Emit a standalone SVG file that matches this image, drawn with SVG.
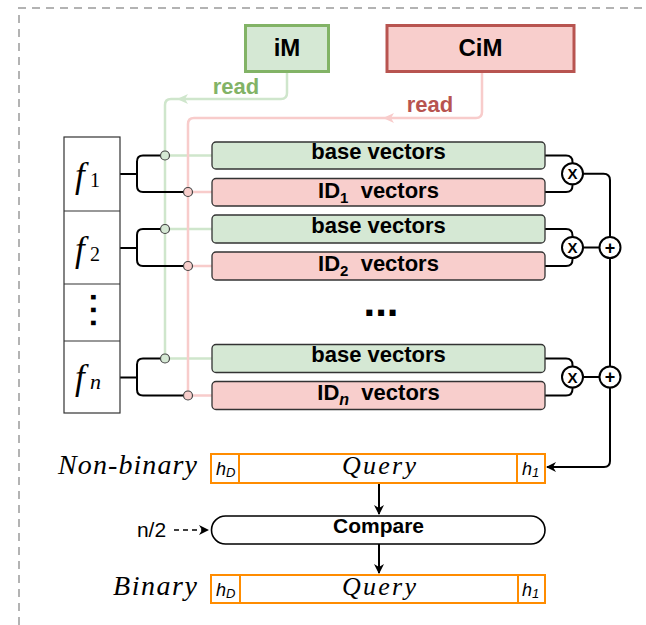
<svg xmlns="http://www.w3.org/2000/svg" width="646" height="625" viewBox="0 0 646 625">
<defs>
<style>
.sans{font-family:"Liberation Sans",Arial,Helvetica,sans-serif}
.math{font-family:"Liberation Serif","Times New Roman",serif;font-style:italic}
.serif{font-family:"Liberation Serif","Times New Roman",serif}
.lbl{font-family:"Liberation Sans",Arial,Helvetica,sans-serif;font-size:22px;font-weight:bold;fill:#000;white-space:pre}
.gv{fill:#d5e8d4;stroke:#333;stroke-width:1.3}
.rv{fill:#f8cecc;stroke:#333;stroke-width:1.3}
.blk{fill:none;stroke:#000;stroke-width:2}
.op{fill:#fff;stroke:#000;stroke-width:2}
.org{fill:#fff;stroke:#FF8C00;stroke-width:2}
.gl{fill:none;stroke:#cfe6cc;stroke-width:2.5}
.rl{fill:none;stroke:#f8cccb;stroke-width:2.5}
.gc{fill:#d5e8d4;stroke:#444;stroke-width:1.2}
.rc{fill:#f8cecc;stroke:#444;stroke-width:1.2}
.optxt{font-family:"Liberation Sans",Arial,sans-serif;font-weight:bold;text-anchor:middle}
</style>
<marker id="ah" markerWidth="10" markerHeight="10" refX="9" refY="5" orient="auto" markerUnits="userSpaceOnUse"><path d="M0,0 L10,5 L0,10 L3,5 z" fill="#000"/></marker>
</defs>

<path d="M19,625 V8 H646" fill="none" stroke="#b3b3b3" stroke-width="2" stroke-dasharray="8,6"/>

<g id="connectors">
  <path class="gl" d="M287,71.5 V93 Q287,99 281,99 H171 Q165,99 165,105 V354"/>
  <path class="gl" d="M169.5,155.5 H212 M169.5,229 H212 M169.5,358.5 H212"/>
  <path d="M177,99 L188,94 L185,99 L188,104 z" fill="#cfe6cc"/>
  <path class="rl" d="M482,71.5 V112 Q482,118 476,118 H194 Q188,118 188,124 V391"/>
  <path class="rl" d="M192.5,192 H212 M192.5,266 H212 M192.5,395.5 H212"/>
  <path d="M383,118 L394,113 L391,118 L394,123 z" fill="#f8cccb"/>
  <text class="sans" x="236" y="94" font-size="22" font-weight="bold" fill="#82b366" text-anchor="middle">read</text>
  <text class="sans" x="430" y="112" font-size="22" font-weight="bold" fill="#b85450" text-anchor="middle">read</text>

  <path class="blk" d="M120,174 H137 M160.5,155.5 H143 Q137,155.5 137,161.5 V186 Q137,192 143,192 H183.5"/>
  <path class="blk" d="M120,248 H137 M160.5,229 H143 Q137,229 137,235 V260 Q137,266 143,266 H183.5"/>
  <path class="blk" d="M120,377.5 H137 M160.5,358.5 H143 Q137,358.5 137,364.5 V389.5 Q137,395.5 143,395.5 H183.5"/>

  <circle class="gc" cx="165" cy="155.5" r="4.5"/>
  <circle class="rc" cx="188" cy="192" r="4.5"/>
  <circle class="gc" cx="165" cy="229" r="4.5"/>
  <circle class="rc" cx="188" cy="266" r="4.5"/>
  <circle class="gc" cx="165" cy="358.5" r="4.5"/>
  <circle class="rc" cx="188" cy="395.5" r="4.5"/>

  <path class="blk" d="M545,155.5 H566 Q572.5,155.5 572.5,162 V163.5 M545,192 H566 Q572.5,192 572.5,185.5 V184"/>
  <path class="blk" d="M545,229 H566 Q572.5,229 572.5,235.5 V237 M545,266 H566 Q572.5,266 572.5,259.5 V258"/>
  <path class="blk" d="M545,358.5 H566 Q572.5,358.5 572.5,365 V366.5 M545,395.5 H566 Q572.5,395.5 572.5,389 V387.5"/>
  <path class="blk" d="M583,173.75 H603.5 Q610,173.75 610,180.25 V237 M583,247.5 H599.5 M610,258 V366.5 M583,377 H599.5"/>
  <path class="blk" d="M610,387.5 V461 Q610,467 604,467 H547" marker-end="url(#ah)"/>

  <path class="blk" d="M379,483 V514" marker-end="url(#ah)"/>
  <path class="blk" d="M379,544 V573" marker-end="url(#ah)"/>
  <path d="M174,530 H208" fill="none" stroke="#000" stroke-width="1.6" stroke-dasharray="5,4" marker-end="url(#ah)"/>
  <text class="sans" x="151.5" y="537" font-size="21" text-anchor="middle">n/2</text>
</g>

<g id="iM">
  <rect x="245.5" y="25.5" width="83" height="46" fill="#d5e8d4" stroke="#82b366" stroke-width="3"/>
  <text class="optxt" x="287" y="56" font-size="24">iM</text>
</g>
<g id="CiM">
  <rect x="387" y="25.5" width="187" height="46" fill="#f8cecc" stroke="#b85450" stroke-width="3"/>
  <text class="optxt" x="480.5" y="56" font-size="24">CiM</text>
</g>

<g id="features">
  <rect x="64" y="137" width="56" height="276" fill="#fff" stroke="#333" stroke-width="1.2"/>
  <path d="M64,211 H120 M64,284 H120 M64,341 H120" stroke="#333" stroke-width="1.2"/>
  <text y="187"><tspan x="75" class="math" font-size="35">f</tspan><tspan x="90" class="serif" font-size="20">1</tspan></text>
  <text y="261"><tspan x="75" class="math" font-size="35">f</tspan><tspan x="90" class="serif" font-size="20">2</tspan></text>
  <text y="389"><tspan x="75" class="math" font-size="35">f</tspan><tspan x="90" class="math" font-size="22">n</tspan></text>
  <text class="optxt" x="92.5" y="314" font-size="32" letter-spacing="4" transform="rotate(90 92.5 312)">...</text>
</g>

<g id="row1-base"><rect class="gv" x="212" y="142" width="333" height="27" rx="4"/><text class="lbl" x="378.5" y="159" text-anchor="middle">base vectors</text></g>
<g id="row1-id"><rect class="rv" x="212" y="178.5" width="333" height="27.5" rx="4"/><text class="lbl" x="378.5" y="197.5" text-anchor="middle">ID<tspan font-size="15" dy="5">1</tspan><tspan dy="-5">  vectors</tspan></text></g>
<g id="row2-base"><rect class="gv" x="212" y="215" width="333" height="28" rx="4"/><text class="lbl" x="378.5" y="232.5" text-anchor="middle">base vectors</text></g>
<g id="row2-id"><rect class="rv" x="212" y="252" width="333" height="28" rx="4"/><text class="lbl" x="378.5" y="271" text-anchor="middle">ID<tspan font-size="15" dy="5">2</tspan><tspan dy="-5">  vectors</tspan></text></g>
<g id="dots"><text class="optxt" x="381" y="316" font-size="42">...</text></g>
<g id="rown-base"><rect class="gv" x="212" y="344.5" width="333" height="28" rx="4"/><text class="lbl" x="378.5" y="362" text-anchor="middle">base vectors</text></g>
<g id="rown-id"><rect class="rv" x="212" y="381.5" width="333" height="28" rx="4"/><text class="lbl" x="378.5" y="400" text-anchor="middle">ID<tspan font-size="16" dy="5" font-style="italic">n</tspan><tspan dy="-5">  vectors</tspan></text></g>

<g id="mul1"><circle class="op" cx="572.5" cy="173.75" r="10.5"/><text class="optxt" x="572.5" y="179" font-size="15">X</text></g>
<g id="mul2"><circle class="op" cx="572.5" cy="247.5" r="10.5"/><text class="optxt" x="572.5" y="253" font-size="15">X</text></g>
<g id="muln"><circle class="op" cx="572.5" cy="377" r="10.5"/><text class="optxt" x="572.5" y="382.5" font-size="15">X</text></g>
<g id="add1"><circle class="op" cx="610" cy="247.5" r="10.5"/><text class="optxt" x="610" y="253.5" font-size="18">+</text></g>
<g id="addn"><circle class="op" cx="610" cy="377" r="10.5"/><text class="optxt" x="610" y="383" font-size="18">+</text></g>

<g id="query-nonbinary">
  <text class="math" x="58" y="474" font-size="28" textLength="139">Non-binary</text>
  <rect class="org" x="211" y="454" width="334" height="29"/>
  <path d="M239,454 V483 M517,454 V483" stroke="#FF8C00" stroke-width="2"/>
  <text class="sans" x="216" y="475" font-size="18" font-style="italic">h<tspan font-size="13" dy="2">D</tspan></text>
  <text class="math" x="342" y="474" font-size="26" textLength="74">Query</text>
  <text class="sans" x="522" y="475" font-size="18" font-style="italic">h<tspan font-size="13" dy="2">1</tspan></text>
</g>

<g id="compare">
  <rect x="211.5" y="516" width="333.5" height="28" rx="14" fill="#fff" stroke="#000" stroke-width="1.6"/>
  <text class="optxt" x="378.5" y="533" font-size="21">Compare</text>
</g>

<g id="query-binary">
  <text class="math" x="113" y="595" font-size="28" textLength="84">Binary</text>
  <rect class="org" x="211" y="575" width="334" height="28"/>
  <path d="M240,575 V603 M518,575 V603" stroke="#FF8C00" stroke-width="2"/>
  <text class="sans" x="216" y="596" font-size="18" font-style="italic">h<tspan font-size="13" dy="2">D</tspan></text>
  <text class="math" x="342" y="595" font-size="26" textLength="74">Query</text>
  <text class="sans" x="522" y="596" font-size="18" font-style="italic">h<tspan font-size="13" dy="2">1</tspan></text>
</g>
</svg>
